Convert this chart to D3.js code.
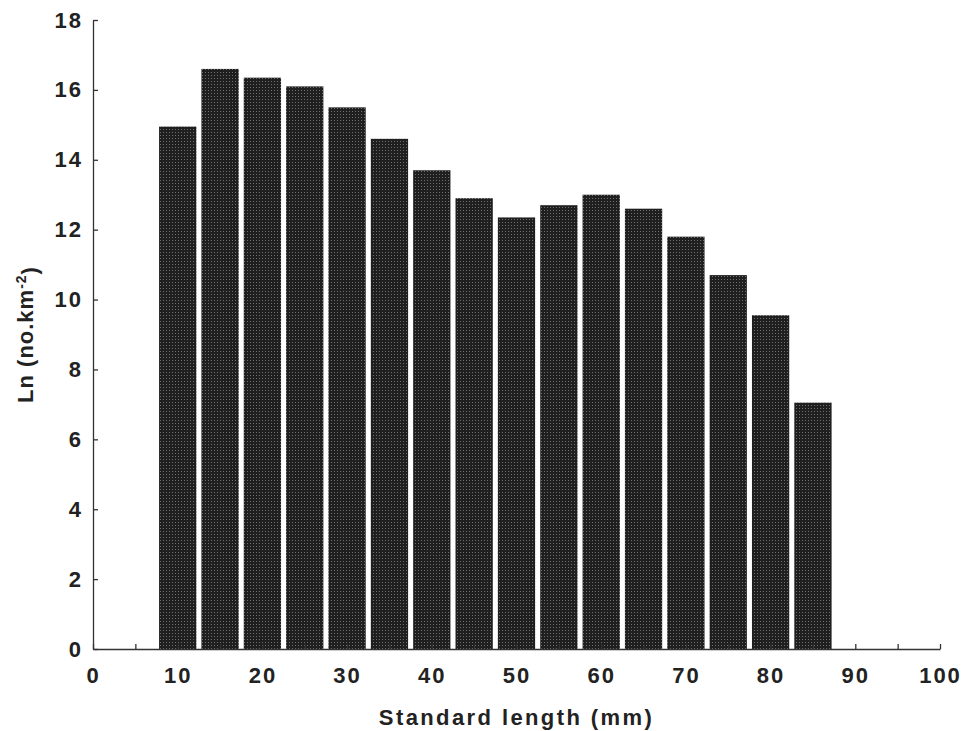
<!DOCTYPE html>
<html>
<head>
<meta charset="utf-8">
<script src="https://cdn.jsdelivr.net/npm/d3@7"></script>
<style>
  html, body { margin: 0; padding: 0; background: #fff; }
  svg { display: block; }
  text { font-family: "Liberation Sans", Arial, sans-serif; font-weight: bold; fill: #222; }
</style>
</head>
<body>
<svg id="chart" width="964" height="731"></svg>
<script>
// Size classes (standard length, mm; bar centres)
const lengthClasses = [10, 15, 20, 25, 30, 35, 40, 45, 50, 55, 60, 65, 70, 75, 80, 85];
// Ln abundance (no. km^-2) per size class
const lnAbundance = [14.95, 16.6, 16.35, 16.1, 15.5, 14.6, 13.7, 12.9, 12.35, 12.7, 13.0, 12.6, 11.8, 10.7, 9.55, 7.05];
// Axis ticks
const xTicks = [0, 5, 10, 15, 20, 25, 30, 35, 40, 45, 50, 55, 60, 65, 70, 75, 80, 85, 90, 95, 100];
const xTickLabels = [0, 10, 20, 30, 40, 50, 60, 70, 80, 90, 100];
const yTicks = [0, 2, 4, 6, 8, 10, 12, 14, 16, 18];

const binHalfWidth = 2.2;

const svg = d3.select("#chart");
const margin = { left: 93, top: 20, right: 24, bottom: 82 };
const W = 964, H = 731;
const innerW = W - margin.left - margin.right;
const innerH = H - margin.top - margin.bottom;

const x = d3.scaleLinear().domain([0, 100]).range([0, innerW]);
const y = d3.scaleLinear().domain([0, 18]).range([innerH, 0]);

// halftone-like fill for the bars
const defs = svg.append("defs");
const pat = defs.append("pattern")
  .attr("id", "screen")
  .attr("patternUnits", "userSpaceOnUse")
  .attr("width", 3).attr("height", 3);
pat.append("rect").attr("width", 3).attr("height", 3).attr("fill", "#1f1f1f");
pat.append("rect").attr("x", 1).attr("y", 1).attr("width", 1).attr("height", 1).attr("fill", "#707070");

const g = svg.append("g").attr("transform", `translate(${margin.left},${margin.top})`);

// bars
g.selectAll("rect.bar")
  .data(lengthClasses.map((c, i) => ({ c, v: lnAbundance[i] })))
  .join("rect")
  .attr("class", "bar")
  .attr("x", d => x(d.c - binHalfWidth))
  .attr("width", d => x(d.c + binHalfWidth) - x(d.c - binHalfWidth))
  .attr("y", d => y(d.v))
  .attr("height", d => y(0) - y(d.v))
  .attr("fill", "url(#screen)");

// y axis, ticks pointing into the plot
const yAxis = d3.axisLeft(y)
  .tickValues(yTicks)
  .tickFormat(d3.format("d"))
  .tickSizeInner(-5)
  .tickSizeOuter(0)
  .tickPadding(10);
const gy = g.append("g").call(yAxis);

// x axis, minor ticks every 5 mm, labels every 10 mm
const xAxis = d3.axisBottom(x)
  .tickValues(xTicks)
  .tickFormat(d => xTickLabels.includes(d) ? String(d) : "")
  .tickSizeInner(-5)
  .tickSizeOuter(0)
  .tickPadding(18);
const gx = g.append("g").attr("transform", `translate(0,${innerH})`).call(xAxis);

[gx, gy].forEach(a => {
  a.select(".domain").attr("stroke", "#333").attr("stroke-width", 1.3);
  a.selectAll(".tick line").attr("stroke", "#333").attr("stroke-width", 1.3);
  a.selectAll(".tick text")
    .style("font-size", "22px")
    .style("letter-spacing", "2px")
    .style("font-family", "'Liberation Sans', Arial, sans-serif")
    .style("font-weight", "bold")
    .attr("fill", "#222");
});

// axis titles
svg.append("text")
  .attr("x", margin.left + innerW / 2)
  .attr("y", 725)
  .attr("text-anchor", "middle")
  .style("font-size", "22px")
  .style("letter-spacing", "2.4px")
  .text("Standard length (mm)");

const yt = svg.append("text")
  .attr("transform", `translate(33,${margin.top + innerH / 2}) rotate(-90)`)
  .attr("text-anchor", "middle")
  .style("font-size", "22px")
  .style("letter-spacing", "1px");
yt.append("tspan").text("Ln (no.km");
yt.append("tspan").attr("dy", "-0.5em").style("font-size", "14px").text("-2");
yt.append("tspan").attr("dy", "0.5em").text(")");
</script>
</body>
</html>
